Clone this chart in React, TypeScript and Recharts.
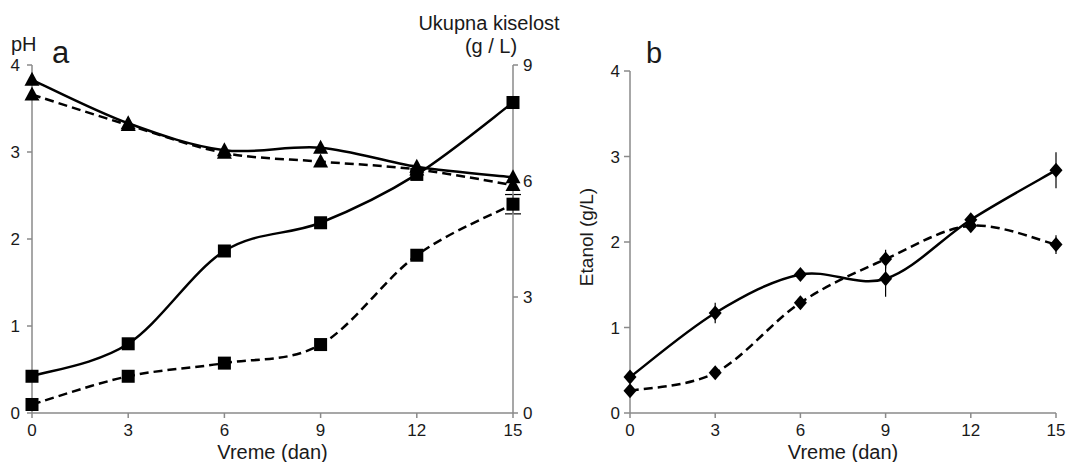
import React from 'react';
import { LineChart, Line, XAxis, YAxis, ErrorBar } from 'recharts';

// sampling days
const days = [0, 3, 6, 9, 12, 15];

// panel a: pH (left axis)
const phSolid = [3.83, 3.33, 3.02, 3.05, 2.83, 2.71];
const phDashed = [3.66, 3.31, 2.99, 2.89, 2.8, 2.62];
const phSolidErr = [0, 0.07, 0, 0, 0, 0];

// panel a: total acidity, g/L (right axis)
const acidSolid = [0.95, 1.79, 4.19, 4.92, 6.17, 8.03];
const acidDashed = [0.22, 0.95, 1.29, 1.77, 4.08, 5.4];
const acidDashedErr = [0, 0, 0, 0, 0, 0.25];

// panel b: ethanol, g/L
const ethSolid = [0.42, 1.17, 1.62, 1.57, 2.26, 2.84];
const ethDashed = [0.26, 0.47, 1.29, 1.8, 2.19, 1.97];
const ethSolidErr = [0, 0.12, 0, 0.21, 0.04, 0.21];
const ethDashedErr = [0, 0, 0, 0.11, 0.04, 0.11];

const phTicks = [0, 1, 2, 3, 4];
const acidTicks = [0, 3, 6, 9];
const ethTicks = [0, 1, 2, 3, 4];

const dataA = days.map((d, i) => ({
  day: d,
  phSolid: phSolid[i],
  phDashed: phDashed[i],
  phSolidErr: phSolidErr[i],
  acidSolid: acidSolid[i],
  acidDashed: acidDashed[i],
  acidDashedErr: acidDashedErr[i],
}));

const dataB = days.map((d, i) => ({
  day: d,
  ethSolid: ethSolid[i],
  ethDashed: ethDashed[i],
  ethSolidErr: ethSolidErr[i],
  ethDashedErr: ethDashedErr[i],
}));

const FONT = '"Liberation Sans", Arial, Helvetica, sans-serif';
const AXIS = '#8a8a8a';
const INK = '#1a1a1a';

// Excel-style smoothed line (Catmull-Rom through every point)
const smooth = (context: any) => {
  let pts: number[][] = [];
  return {
    areaStart() {},
    areaEnd() {},
    lineStart() {
      pts = [];
    },
    point(x: number, y: number) {
      pts.push([x, y]);
    },
    lineEnd() {
      if (!pts.length) return;
      context.moveTo(pts[0][0], pts[0][1]);
      for (let i = 0; i < pts.length - 1; i++) {
        const p0 = pts[Math.max(i - 1, 0)];
        const p1 = pts[i];
        const p2 = pts[i + 1];
        const p3 = pts[Math.min(i + 2, pts.length - 1)];
        context.bezierCurveTo(
          p1[0] + (p2[0] - p0[0]) / 6,
          p1[1] + (p2[1] - p0[1]) / 6,
          p2[0] - (p3[0] - p1[0]) / 6,
          p2[1] - (p3[1] - p1[1]) / 6,
          p2[0],
          p2[1]
        );
      }
    },
  };
};

const triangleDot = (p: any) => (
  <polygon
    key={`tri-${p.dataKey}-${p.index}`}
    points={`${p.cx},${p.cy - 8} ${p.cx - 7.5},${p.cy + 6} ${p.cx + 7.5},${p.cy + 6}`}
    fill="#000"
  />
);

const squareDot = (p: any) => (
  <rect key={`sq-${p.dataKey}-${p.index}`} x={p.cx - 6.5} y={p.cy - 6.5} width={13} height={13} fill="#000" />
);

const diamondDot = (p: any) => (
  <polygon
    key={`dia-${p.dataKey}-${p.index}`}
    points={`${p.cx},${p.cy - 7.5} ${p.cx + 6.5},${p.cy} ${p.cx},${p.cy + 7.5} ${p.cx - 6.5},${p.cy}`}
    fill="#000"
  />
);

const axisProps = {
  axisLine: { stroke: AXIS, strokeWidth: 1.5 },
  tickLine: { stroke: AXIS, strokeWidth: 1.5 },
  tick: { fill: INK, fontSize: 17, fontFamily: FONT },
  tickSize: 5,
};

const xLabel = { value: 'Vreme (dan)', position: 'insideBottom' as const, offset: 3, fontSize: 20, fill: INK, fontFamily: FONT };

const lineProps = {
  type: smooth as any,
  stroke: '#000',
  strokeWidth: 2.5,
  isAnimationActive: false,
  activeDot: false as const,
};

function PanelA() {
  return (
    <LineChart width={560} height={462} data={dataA} margin={{ top: 65, right: 7, bottom: 0, left: 0 }}>
      <XAxis
        {...axisProps}
        dataKey="day"
        type="number"
        domain={[0, 15]}
        ticks={days}
        height={49}
        tickMargin={6}
        label={xLabel}
      />
      <YAxis {...axisProps} yAxisId="ph" domain={[0, 4]} ticks={phTicks} width={32} tickMargin={7} />
      <YAxis
        {...axisProps}
        yAxisId="acid"
        orientation="right"
        domain={[0, 9]}
        ticks={acidTicks}
        width={40}
        tickMargin={5}
      />
      <Line {...lineProps} yAxisId="acid" dataKey="acidDashed" strokeDasharray="9 5" dot={squareDot}>
        <ErrorBar dataKey="acidDashedErr" width={8} stroke="#000" strokeWidth={1.2} />
      </Line>
      <Line {...lineProps} yAxisId="acid" dataKey="acidSolid" dot={squareDot} />
      <Line {...lineProps} yAxisId="ph" dataKey="phDashed" strokeDasharray="9 5" dot={triangleDot} />
      <Line {...lineProps} yAxisId="ph" dataKey="phSolid" dot={triangleDot}>
        <ErrorBar dataKey="phSolidErr" width={0} stroke="#000" strokeWidth={1.2} />
      </Line>
    </LineChart>
  );
}

function PanelB() {
  return (
    <LineChart width={507} height={462} data={dataB} margin={{ top: 71, right: 11, bottom: 0, left: 0 }}>
      <XAxis
        {...axisProps}
        dataKey="day"
        type="number"
        domain={[0, 15]}
        ticks={days}
        height={49}
        tickMargin={6}
        label={xLabel}
      />
      <YAxis {...axisProps} domain={[0, 4]} ticks={ethTicks} width={70} tickSize={6} tickMargin={4} />
      <Line {...lineProps} dataKey="ethDashed" strokeDasharray="9 5" dot={diamondDot}>
        <ErrorBar dataKey="ethDashedErr" width={0} stroke="#000" strokeWidth={1.2} />
      </Line>
      <Line {...lineProps} dataKey="ethSolid" dot={diamondDot}>
        <ErrorBar dataKey="ethSolidErr" width={0} stroke="#000" strokeWidth={1.2} />
      </Line>
    </LineChart>
  );
}

export default function App() {
  return (
    <div style={{ position: 'absolute', left: 0, top: 0, width: 1067, height: 462, background: '#fff', fontFamily: FONT }}>
      <div style={{ position: 'absolute', left: 0, top: 0 }}>
        <PanelA />
      </div>
      <div style={{ position: 'absolute', left: 560, top: 0 }}>
        <PanelB />
      </div>
      <svg
        width={1067}
        height={462}
        style={{ position: 'absolute', left: 0, top: 0, pointerEvents: 'none' }}
        fontFamily={FONT}
        fill={INK}
      >
        <text x={11} y={51} fontSize={20}>pH</text>
        <text x={52} y={63} fontSize={31}>a</text>
        <text x={489} y={30} fontSize={20} textAnchor="middle">Ukupna kiselost</text>
        <text x={491} y={53} fontSize={20} textAnchor="middle">(g / L)</text>
        <text x={646} y={63} fontSize={29}>b</text>
        <text x={593} y={237} fontSize={19} textAnchor="middle" transform="rotate(-90 593 237)">Etanol (g/L)</text>
      </svg>
    </div>
  );
}
